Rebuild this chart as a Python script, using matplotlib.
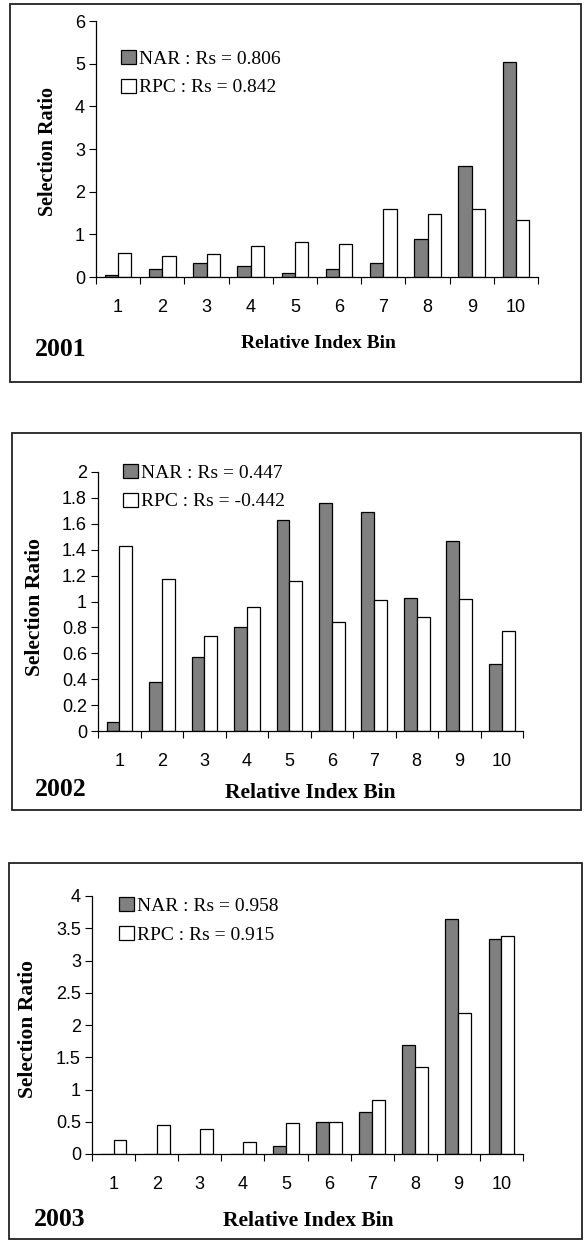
import numpy as np
import matplotlib
matplotlib.use("Agg")
import matplotlib.pyplot as plt
from matplotlib.patches import Rectangle

# ---------------------------------------------------------------------------
# Datos
# ---------------------------------------------------------------------------
BINS = [1, 2, 3, 4, 5, 6, 7, 8, 9, 10]

YEARS = ["2001", "2002", "2003"]

NAR_2001 = [0.04, 0.18, 0.32, 0.25, 0.10, 0.18, 0.32, 0.90, 2.60, 5.05]
RPC_2001 = [0.57, 0.50, 0.53, 0.72, 0.82, 0.78, 1.60, 1.48, 1.60, 1.33]

NAR_2002 = [0.07, 0.38, 0.57, 0.80, 1.63, 1.76, 1.69, 1.03, 1.47, 0.52]
RPC_2002 = [1.43, 1.17, 0.73, 0.96, 1.16, 0.84, 1.01, 0.88, 1.02, 0.77]

NAR_2003 = [0.0, 0.0, 0.0, 0.0, 0.12, 0.50, 0.65, 1.69, 3.64, 3.33]
RPC_2003 = [0.21, 0.45, 0.38, 0.19, 0.48, 0.50, 0.84, 1.35, 2.19, 3.38]

NAR_LABELS = ["NAR : Rs = 0.806", "NAR : Rs = 0.447", "NAR : Rs = 0.958"]
RPC_LABELS = ["RPC : Rs = 0.842", "RPC : Rs = -0.442", "RPC : Rs = 0.915"]

YTICKS = [
    [0, 1, 2, 3, 4, 5, 6],
    [0, 0.2, 0.4, 0.6, 0.8, 1, 1.2, 1.4, 1.6, 1.8, 2],
    [0, 0.5, 1, 1.5, 2, 2.5, 3, 3.5, 4],
]

# ---------------------------------------------------------------------------
# Layout en píxeles (y desde arriba)
# ---------------------------------------------------------------------------
W, H = 584, 1243
DPI = 100

BOXES = [(10, 4, 581, 382), (12, 433, 581, 810), (9, 863, 582, 1239)]
AXES = [(96, 21, 538, 277), (98, 472, 523, 731), (92, 896, 523, 1154)]
LEG_POS = [(121, 50), (123, 464), (119, 897)]   # esquina sup. izq. leyenda
YEAR_POS = [(35, 350), (35, 790), (34, 1219)]
XLAB = [(318, 343, 14), (310, 793, 15.5), (308, 1221, 15.5)]
YLAB = [(48, 151, 14.5), (35, 607, 15.5), (28, 1029, 15.5)]

SERIF = ["Liberation Serif", "DejaVu Serif"]
SANS = ["Liberation Sans", "DejaVu Sans"]


def fx(px):
    return px / W


def fy(py):
    return 1 - py / H


fig = plt.figure(figsize=(W / DPI, H / DPI), dpi=DPI)
fig.patch.set_facecolor("white")

series = [(NAR_2001, RPC_2001), (NAR_2002, RPC_2002), (NAR_2003, RPC_2003)]
x = np.array(BINS)
bw = 0.3

for k, (nar, rpc) in enumerate(series):
    bx0, by0, bx1, by1 = BOXES[k]
    fig.patches.append(Rectangle((fx(bx0), fy(by1)), fx(bx1 - bx0), (by1 - by0) / H,
                                 transform=fig.transFigure, fill=False,
                                 edgecolor="#222222", linewidth=1.3, zorder=0))

    l, t, r, b = AXES[k]
    ax = fig.add_axes([fx(l), fy(b), fx(r - l), (b - t) / H])
    ax.bar(x - bw / 2, nar, width=bw, color="#808080", edgecolor="black",
           linewidth=0.9, label=NAR_LABELS[k])
    ax.bar(x + bw / 2, rpc, width=bw, color="white", edgecolor="black",
           linewidth=0.9, label=RPC_LABELS[k])

    yt = YTICKS[k]
    ax.set_ylim(yt[0], yt[-1])
    ax.set_xlim(0.5, 10.5)
    ax.set_yticks(yt)
    ax.set_yticklabels([f"{v:g}" for v in yt], family=SANS, fontsize=13)
    ax.set_xticks(np.arange(0.5, 11, 1))
    ax.set_xticklabels([])
    ax.set_xticks(x, minor=True)
    ax.set_xticklabels([str(v) for v in BINS], minor=True, family=SANS, fontsize=13)
    ax.tick_params(axis="x", which="minor", length=0, pad=16)
    ax.tick_params(axis="x", which="major", direction="out", length=5, width=0.8)
    ax.tick_params(axis="y", direction="out", length=5, width=0.8, pad=3)
    for s in ("top", "right"):
        ax.spines[s].set_visible(False)
    for s in ("left", "bottom"):
        ax.spines[s].set_linewidth(0.9)
    ax.patch.set_alpha(0)

    ax.legend(loc="upper left", bbox_to_anchor=(fx(LEG_POS[k][0]), fy(LEG_POS[k][1])),
              bbox_transform=fig.transFigure, frameon=False,
              prop={"family": SERIF, "size": 14}, handlelength=0.75,
              handleheight=0.75, handletextpad=0.2, labelspacing=0.55,
              borderaxespad=0, borderpad=0)

    xl, yl, sl = XLAB[k]
    fig.text(fx(xl), fy(yl), "Relative Index Bin",
             family=SERIF, weight="bold", fontsize=sl, ha="center", va="center")
    xl, yl, sl = YLAB[k]
    fig.text(fx(xl), fy(yl), "Selection Ratio", rotation=90,
             family=SERIF, weight="bold", fontsize=sl, ha="center", va="center")
    fig.text(fx(YEAR_POS[k][0]), fy(YEAR_POS[k][1]), YEARS[k],
             family=SERIF, weight="bold", fontsize=18.5, ha="left", va="center")

fig.savefig("out.png", dpi=DPI, facecolor="white")
